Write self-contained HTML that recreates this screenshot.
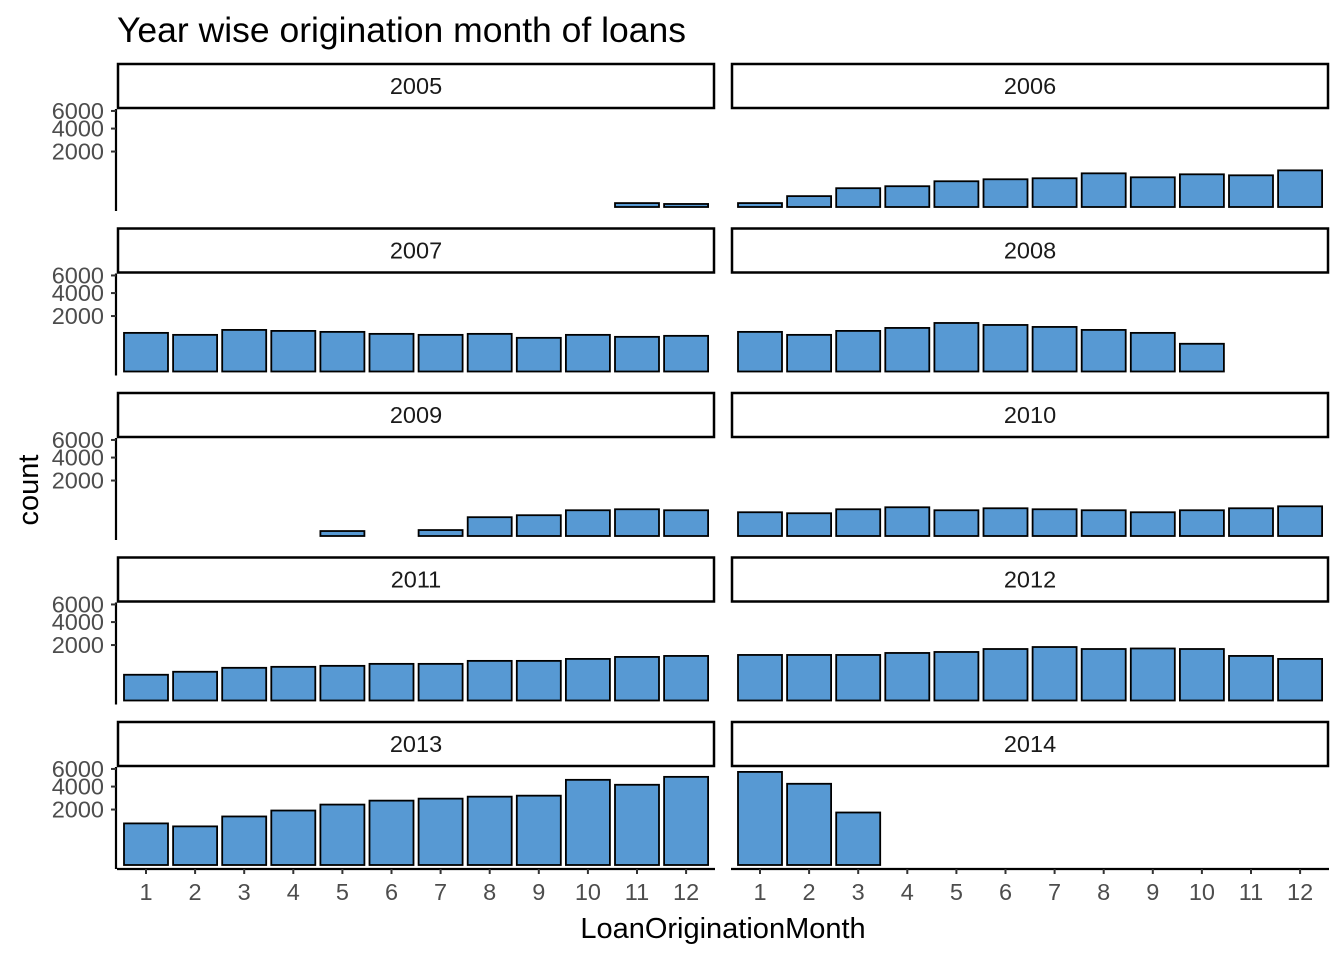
<!DOCTYPE html>
<html><head><meta charset="utf-8"><style>
body{margin:0;background:#fff}
svg{font-family:"Liberation Sans",sans-serif}
</style></head><body>
<svg id="c" width="1344" height="960">
<text x="117" y="42" font-size="35.5" fill="#000">Year wise origination month of loans</text>
<text x="723" y="938" font-size="29" text-anchor="middle">LoanOriginationMonth</text>
<text transform="translate(38,490) rotate(-90)" font-size="29" text-anchor="middle">count</text>
</svg>
<script>
const years=[2005,2006,2007,2008,2009,2010,2011,2012,2013,2014];
const months=[1,2,3,4,5,6,7,8,9,10,11,12];
const yTicks=[2000,4000,6000];
const v2005=[0,0,0,0,0,0,0,0,0,0,10,6];
const v2006=[10,77,230,281,431,500,537,737,574,695,653,873];
const v2007=[970,873,1125,1072,1021,921,873,921,737,873,781,827];
const v2008=[1021,873,1072,1235,1532,1409,1292,1125,970,500,0,0];
const v2009=[0,0,0,0,16,0,23,230,281,431,465,431];
const v2010=[367,337,465,537,431,500,465,431,367,431,500,574];
const v2011=[431,537,695,737,781,873,873,1021,1021,1125,1235,1292];
const v2012=[1350,1350,1350,1470,1532,1725,1860,1725,1760,1725,1292,1125];
const v2013=[1125,970,1532,1930,2374,2695,2864,3037,3126,4718,4186,5053];
const v2014=[5637,4290,1792,0,0,0,0,0,0,0,0,0];
const series=[v2005,v2006,v2007,v2008,v2009,v2010,v2011,v2012,v2013,v2014];
const svg=document.getElementById('c');const NS='http://www.w3.org/2000/svg';
function mk(t,a,p){const e=document.createElementNS(NS,t);for(const k in a)e.setAttribute(k,a[k]);(p||svg).appendChild(e);return e;}
const colX=[117,731],PW=598,stripTop0=63,rowStep=164.5,stripH=46,PH=102;
const k=1.24;
function xs(col,m){return colX[col]+29+(m-1)*49.1;}
series.forEach((vals,i)=>{
 const col=i%2,row=Math.floor(i/2);
 const st=stripTop0+row*rowStep, pt=st+stripH, base=pt+98;
 const ys=v=>base-k*Math.sqrt(v);
 const g=mk('g',{});
 
 
 const s=mk('rect',{x:colX[col]+1,y:st+1,width:PW-2,height:stripH-2,fill:'#fff',stroke:'#000','stroke-width':2.5},g);
 
 
 const t=mk('text',{x:colX[col]+PW/2,y:st+31,'font-size':23.5,'text-anchor':'middle',fill:'#1a1a1a'},g);t.textContent=years[i];
 
 
 vals.forEach((v,j)=>{if(v<=0)return;
  const y=ys(v);
  const b=mk('rect',{x:xs(col,months[j])-22,y:y,width:44,height:Math.max(base-y,3),fill:'#5799d3',stroke:'#000','stroke-width':1.8},g);
  
  
 });
 if(col===0){
  const ax=mk('line',{x1:116,x2:116,y1:pt,y2:pt+PH,stroke:'#000','stroke-width':2.2},g);
  
  
  yTicks.forEach(tv=>{const y=ys(tv);
   mk('line',{x1:111,x2:116,y1:y,y2:y,stroke:'#333','stroke-width':2},g);
   const tl=mk('text',{x:104,y:y+8,'font-size':23.5,'text-anchor':'end',fill:'#4d4d4d'},g);tl.textContent=tv;
   
   
  });
 }
 if(row===4){
  const by=pt+PH;
  const ax=mk('line',{x1:colX[col],x2:colX[col]+PW,y1:by,y2:by,stroke:'#000','stroke-width':2.2},g);
  
  
  months.forEach(m=>{const x=xs(col,m);
   mk('line',{x1:x,x2:x,y1:by,y2:by+5,stroke:'#333','stroke-width':2},g);
   const tl=mk('text',{x:x,y:by+31,'font-size':23.5,'text-anchor':'middle',fill:'#4d4d4d'},g);tl.textContent=m;
   
   
  });
 }
});
</script>
</body></html>
